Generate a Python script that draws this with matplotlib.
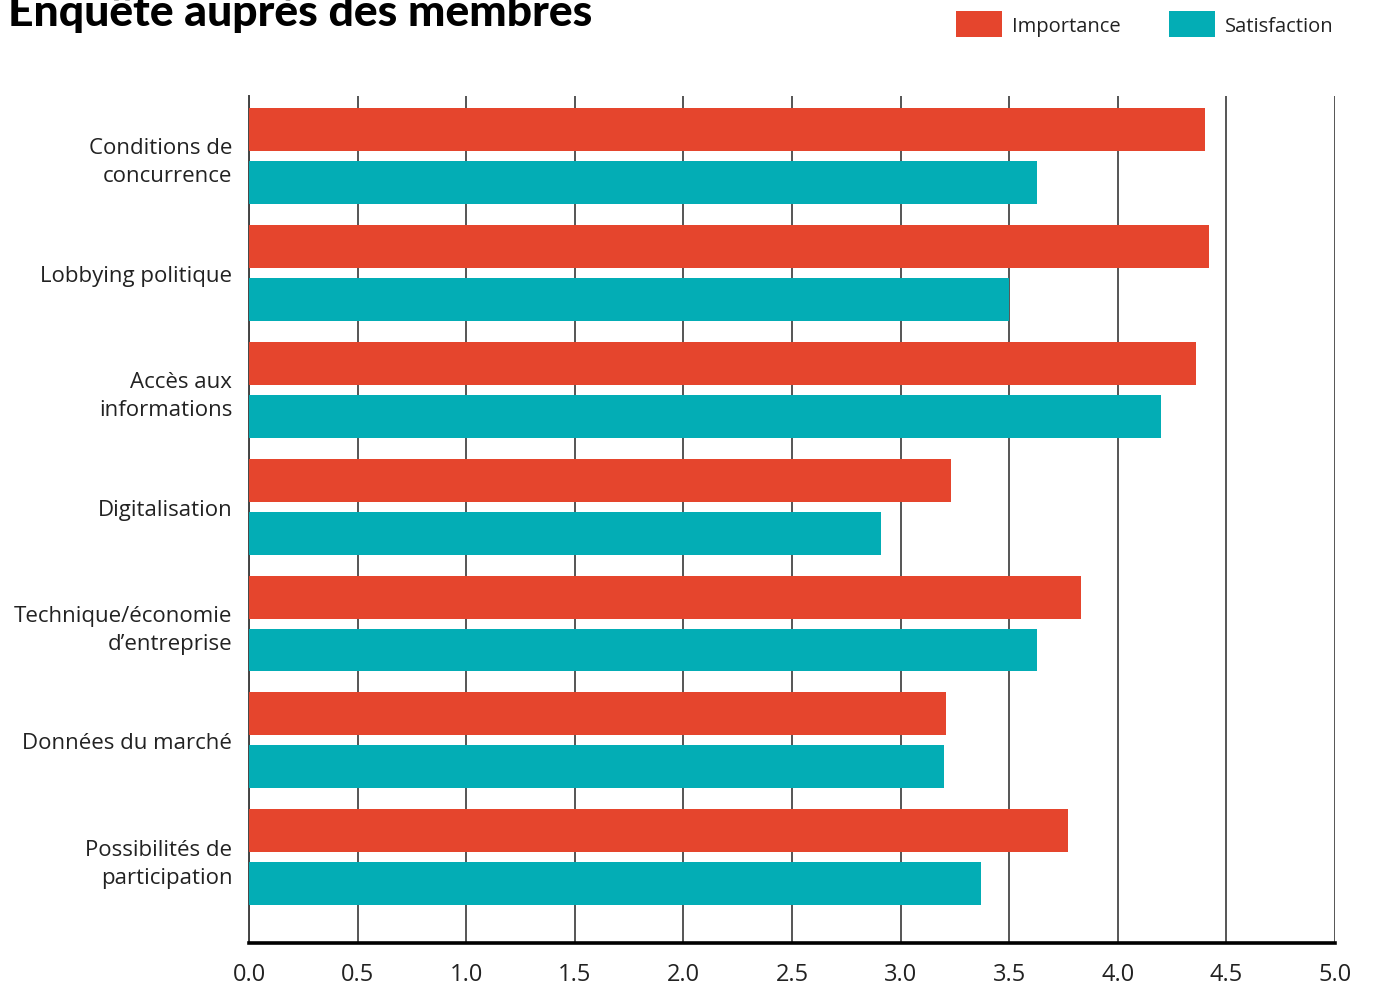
import matplotlib.pyplot as plt
import numpy as np

# ---------------- data ----------------
categories = [
    "Conditions de\nconcurrence",
    "Lobbying politique",
    "Accès aux\ninformations",
    "Digitalisation",
    "Technique/économie\nd’entreprise",
    "Données du marché",
    "Possibilités de\nparticipation",
]
importance = [4.40, 4.42, 4.36, 3.23, 3.83, 3.21, 3.77]
satisfaction = [3.63, 3.50, 4.20, 2.91, 3.63, 3.20, 3.37]
x_ticks = [0.0, 0.5, 1.0, 1.5, 2.0, 2.5, 3.0, 3.5, 4.0, 4.5, 5.0]

RED = "#E5452D"
TEAL = "#03ADB5"
TEXT = "#222222"

plt.rcParams['font.family'] = ['Open Sans', 'DejaVu Sans']

fig = plt.figure(figsize=(13.86, 9.87), dpi=100)
ax = fig.add_axes([249 / 1386, 1 - 944 / 987, (1335 - 249) / 1386, (944 - 97) / 987])

y = np.arange(len(categories))
bar_h = 43 / 117
off = 26.5 / 117

ax.barh(y - off, importance, height=bar_h, color=RED, label="Importance", zorder=3)
ax.barh(y + off, satisfaction, height=bar_h, color=TEAL, label="Satisfaction", zorder=3)

ax.set_xlim(0, 5.0)
ax.set_ylim(6.731, -0.509)
ax.set_xticks(x_ticks)
ax.set_xticklabels([f"{t:.1f}" for t in x_ticks])
ax.set_yticks(y)
ax.set_yticklabels(categories, linespacing=1.45)

ax.tick_params(axis='x', length=0, pad=14, labelsize=17, labelcolor=TEXT)
ax.tick_params(axis='y', length=0, pad=12, labelsize=16, labelcolor=TEXT)
for lab in ax.get_yticklabels():
    lab.set_horizontalalignment('right')

ax.grid(axis='x', color='#555555', linewidth=1.4, zorder=0)
ax.set_axisbelow(True)

ax.spines['top'].set_visible(False)
ax.spines['right'].set_visible(False)
ax.spines['left'].set_color('#444444')
ax.spines['left'].set_linewidth(1.4)
ax.spines['bottom'].set_color('black')
ax.spines['bottom'].set_linewidth(2.6)

# title (cut at the top edge like the original)
fig.text(8 / 1386, 1 - 26 / 987, "Enquête auprès des membres",
         fontsize=32, fontweight='black', family=['Lato', 'DejaVu Sans'],
         color='black', ha='left', va='baseline')

fig.legend(loc='upper right', bbox_to_anchor=(1352 / 1386, 1 + 6 / 987),
           ncol=2, frameon=False, fontsize=14.5, handlelength=2.3,
           handleheight=1.6, handletextpad=0.5, columnspacing=2.4,
           labelcolor=TEXT)

fig.savefig("out.png", dpi=100)
